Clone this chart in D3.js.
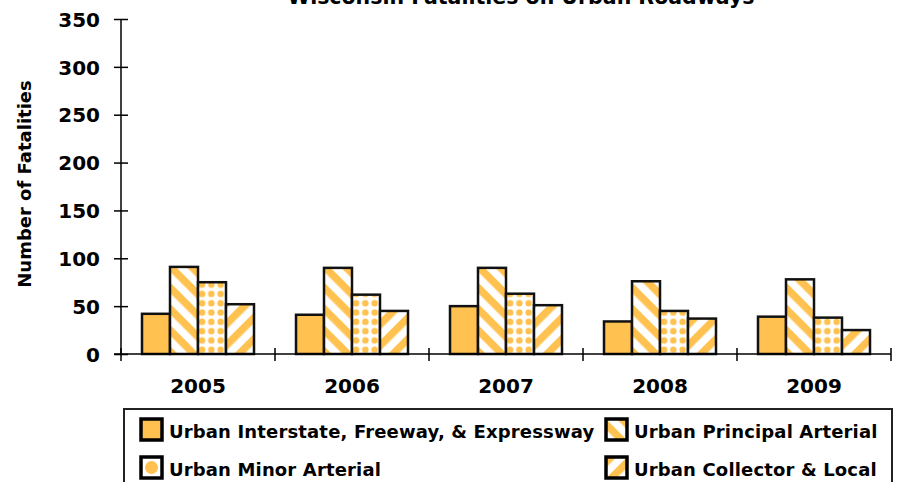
<!DOCTYPE html>
<html>
<head>
<meta charset="utf-8">
<script src="https://cdn.jsdelivr.net/npm/d3@7"></script>
<style>
  body { margin: 0; background: #fff; }
  text { font-family: "DejaVu Sans", sans-serif; font-weight: bold; fill: #000; }
</style>
</head>
<body>
<svg id="chart" width="898" height="482"></svg>
<script>
// data
var years = ["2005", "2006", "2007", "2008", "2009"];
var series = ["Urban Interstate, Freeway, & Expressway", "Urban Principal Arterial",
              "Urban Minor Arterial", "Urban Collector & Local"];
var interstate = [42, 41, 50, 34, 39];
var principal = [91, 90, 90, 76, 78];
var minor = [75, 62, 63, 45, 38];
var collector = [52, 45, 51, 37, 25];
var yTicks = [0, 50, 100, 150, 200, 250, 300, 350];

var values = [interstate, principal, minor, collector];
var fills = ["url(#solid)", "url(#back)", "url(#dots)", "url(#fwd)"];
var orange = "#FFC14F";

var svg = d3.select("#chart");

// patterns
var defs = svg.append("defs");
var p = defs.append("pattern").attr("id", "back").attr("patternUnits", "userSpaceOnUse")
    .attr("width", 15).attr("height", 15).attr("patternTransform", "rotate(45)");
p.append("rect").attr("width", 15).attr("height", 15).attr("fill", "#fff");
p.append("rect").attr("width", 15).attr("height", 7.5).attr("fill", orange);

p = defs.append("pattern").attr("id", "fwd").attr("patternUnits", "userSpaceOnUse")
    .attr("width", 15).attr("height", 15).attr("patternTransform", "rotate(-45)");
p.append("rect").attr("width", 15).attr("height", 15).attr("fill", "#fff");
p.append("rect").attr("width", 15).attr("height", 7.5).attr("fill", orange);

p = defs.append("pattern").attr("id", "dots").attr("patternUnits", "userSpaceOnUse")
    .attr("width", 9.3).attr("height", 9.3).attr("x", 2).attr("y", 1);
p.append("rect").attr("width", 9.3).attr("height", 9.3).attr("fill", "#fff");
p.append("circle").attr("cx", 4.65).attr("cy", 4.65).attr("r", 3.3).attr("fill", orange);

p = defs.append("pattern").attr("id", "solid").attr("patternUnits", "userSpaceOnUse")
    .attr("width", 10).attr("height", 10);
p.append("rect").attr("width", 10).attr("height", 10).attr("fill", orange);

// scales
var x0 = d3.scaleBand().domain(years).range([121, 891]);
var x1 = d3.scaleBand().domain(d3.range(series.length)).range([21, 133]);
var y = d3.scaleLinear().domain([0, 350]).range([354, 19]);

// bars
var groups = svg.selectAll(".year")
    .data(years)
    .enter().append("g")
    .attr("class", "year")
    .attr("transform", function (d) { return "translate(" + x0(d) + ",0)"; });

groups.selectAll("rect")
    .data(function (d, i) { return values.map(function (v, s) { return { s: s, v: v[i] }; }); })
    .enter().append("rect")
    .attr("x", function (d) { return x1(d.s); })
    .attr("y", function (d) { return y(d.v); })
    .attr("width", x1.bandwidth())
    .attr("height", function (d) { return y(0) - y(d.v); })
    .attr("fill", function (d) { return fills[d.s]; })
    .attr("stroke", "#111")
    .attr("stroke-width", 2.5);

// y axis
var yAxis = svg.append("g")
    .attr("transform", "translate(121,0)")
    .call(d3.axisLeft(y).tickValues(yTicks).tickSize(7).tickPadding(14));
yAxis.select(".domain").remove();
yAxis.append("line").attr("y1", 19).attr("y2", 354).attr("stroke", "#000").attr("stroke-width", 1.5);
yAxis.selectAll(".tick line").attr("x2", 7).attr("x1", -7).attr("stroke-width", 1.5);
yAxis.selectAll(".tick text").style("font-size", "20px").style("font-weight", "bold")
    .style("font-family", "DejaVu Sans").attr("dy", "0.36em").attr("x", -21);

// x axis
var xAxis = svg.append("g")
    .attr("transform", "translate(0,354)");
xAxis.append("line").attr("x1", 114).attr("x2", 891).attr("stroke", "#000").attr("stroke-width", 1.5);
xAxis.selectAll(".cat-tick")
    .data(years.concat(["end"]))
    .enter().append("line")
    .attr("x1", function (d, i) { return i < years.length ? x0(d) : x0.range()[1]; })
    .attr("x2", function (d, i) { return i < years.length ? x0(d) : x0.range()[1]; })
    .attr("y1", -6).attr("y2", 7)
    .attr("stroke", "#000").attr("stroke-width", 1.5);
xAxis.selectAll(".cat-label")
    .data(years)
    .enter().append("text")
    .attr("x", function (d) { return x0(d) + x0.bandwidth() / 2; })
    .attr("y", 39)
    .attr("text-anchor", "middle")
    .style("font-size", "20px")
    .text(function (d) { return d; });

// titles (the reference crops the title at the top edge)
svg.append("text")
    .attr("x", 521).attr("y", 4)
    .attr("text-anchor", "middle")
    .style("font-size", "20.5px")
    .text("Wisconsin Fatalities on Urban Roadways");

svg.append("text")
    .attr("transform", "translate(31,184) rotate(-90)")
    .attr("text-anchor", "middle")
    .style("font-size", "18px")
    .text("Number of Fatalities");

// legend
var legend = svg.append("g");
legend.append("rect")
    .attr("x", 124).attr("y", 409).attr("width", 768).attr("height", 100)
    .attr("fill", "#fff").attr("stroke", "#222").attr("stroke-width", 2);

var legendPos = [[141, 419], [606, 419], [141, 457], [606, 457]];
var order = [0, 1, 2, 3];
var items = legend.selectAll(".item")
    .data(order)
    .enter().append("g")
    .attr("transform", function (d) { return "translate(" + legendPos[d][0] + "," + legendPos[d][1] + ")"; });

items.append("rect")
    .attr("width", 21).attr("height", 21)
    .attr("fill", function (d) { return d === 2 ? "#fff" : fills[d]; })
    .attr("stroke", "#000").attr("stroke-width", 3.5);
items.filter(function (d) { return d === 2; })
    .append("circle").attr("cx", 10.5).attr("cy", 10.5).attr("r", 6.5).attr("fill", orange);

items.append("text")
    .attr("x", 28).attr("y", 19)
    .style("font-size", "18px")
    .style("letter-spacing", "0.15px")
    .text(function (d) { return series[d]; });
</script>
</body>
</html>
